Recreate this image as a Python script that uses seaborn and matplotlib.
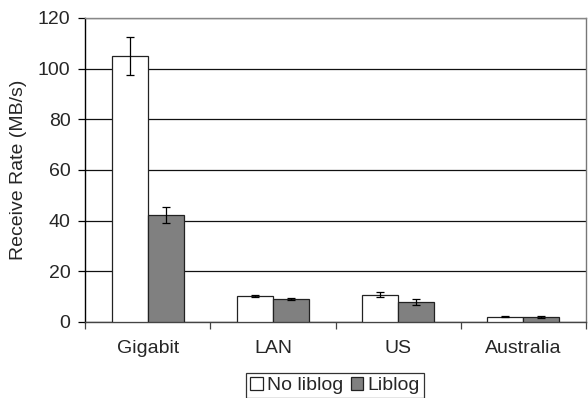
import matplotlib
matplotlib.use("Agg")
import matplotlib.pyplot as plt
import seaborn as sns
import pandas as pd
import numpy as np
from matplotlib.patches import Patch

# Receive rate per network, with and without liblog
categories = ["Gigabit", "LAN", "US", "Australia"]
series_names = ["No liblog", "Liblog"]
no_liblog = [105.0, 10.2, 10.8, 2.1]
no_liblog_err = [7.5, 0.3, 1.1, 0.3]
liblog = [42.2, 9.25, 7.9, 2.0]
liblog_err = [3.2, 0.4, 1.3, 0.25]
y_ticks = [0, 20, 40, 60, 80, 100, 120]
colors = ["#FFFFFF", "#808080"]

sns.set_theme(style="white")
plt.rcParams["font.family"] = ["Liberation Sans", "DejaVu Sans"]

df = pd.DataFrame({
    "network": categories * 2,
    "series": [series_names[0]] * 4 + [series_names[1]] * 4,
    "rate": no_liblog + liblog,
    "err": no_liblog_err + liblog_err,
})

fig = plt.figure(figsize=(5.88, 3.98), dpi=100)
ax = fig.add_axes([0.1446, 0.191, 0.852, 0.764])

sns.barplot(data=df, x="network", y="rate", hue="series", order=categories,
            hue_order=series_names, palette=colors, width=0.575,
            edgecolor="#222222", linewidth=0.9, errorbar=None, legend=False,
            ax=ax, zorder=3)

# error bars placed at each bar's centre
bars = [p for p in ax.patches]
for i, p in enumerate(bars):
    if i >= len(df):
        break
    s = i // len(categories)
    c = i % len(categories)
    row = df[(df.series == series_names[s]) & (df.network == categories[c])].iloc[0]
    xc = p.get_x() + p.get_width() / 2
    ax.errorbar(xc, row.rate, yerr=row.err, fmt="none", ecolor="black",
                elinewidth=0.9, capsize=3, capthick=0.9, zorder=4)

ax.set_ylim(0, 120)
ax.set_xlim(-0.5, 3.5)
ax.set_yticks(y_ticks)
ax.yaxis.grid(True, color="#111111", linewidth=0.9, zorder=0)
ax.set_axisbelow(True)

ax.set_xticks(range(len(categories)))
ax.set_xticklabels(categories)
ax.set_xticks(np.arange(-0.5, 3.6, 1.0), minor=True)
ax.tick_params(axis="x", which="major", length=0, pad=13, labelsize=14)
ax.tick_params(axis="x", which="minor", length=5, width=0.9, color="#444444",
               direction="out", bottom=True)
ax.tick_params(axis="y", which="major", length=5, width=0.9, color="black",
               direction="out", left=True, labelsize=14, pad=5.5)

ax.spines["left"].set_color("black")
ax.spines["left"].set_linewidth(1.0)
ax.spines["bottom"].set_color("#444444")
ax.spines["bottom"].set_linewidth(1.0)
ax.spines["right"].set_color("#777777")
ax.spines["top"].set_color("#888888")
ax.spines["right"].set_linewidth(1.0)
ax.spines["top"].set_linewidth(1.0)

ax.set_xlabel("")
ax.set_ylabel("Receive Rate (MB/s)", fontsize=14, labelpad=8)

handles = [Patch(facecolor=colors[k], edgecolor="#222222", linewidth=0.9,
                 label=series_names[k]) for k in range(2)]
leg = ax.legend(handles=handles, loc="upper center", bbox_to_anchor=(0.499, -0.168),
                ncol=2, frameon=True, fancybox=False, fontsize=14,
                handlelength=0.65, handleheight=0.65, handletextpad=0.2,
                columnspacing=0.4, borderpad=0.2, borderaxespad=0)
leg.get_frame().set_edgecolor("black")
leg.get_frame().set_linewidth(0.9)

fig.savefig("out.png", dpi=100)
